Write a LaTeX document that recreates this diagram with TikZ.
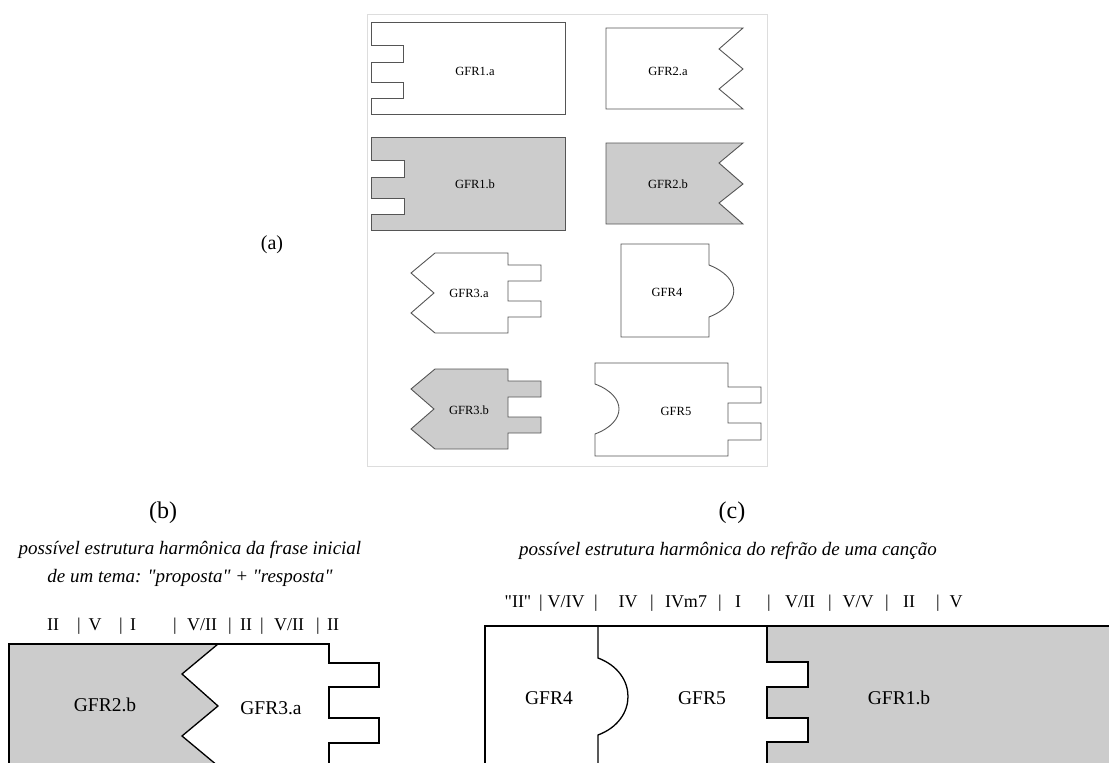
\documentclass[tikz,border=0pt]{standalone}
\usepackage{fontspec}
\setmainfont{Liberation Serif}[Ligatures=TeXOff]
\definecolor{gfill}{HTML}{CCCCCC}
\definecolor{frameg}{HTML}{DDDDDD}
\definecolor{smline}{HTML}{555555}
\begin{document}
\begin{tikzpicture}[x=1pt,y=-1pt,
  shp/.style={draw=smline, line width=0.9pt, line join=miter},
  bigshp/.style={draw=black, line width=1.3pt, line join=miter},
  gf/.style={fill=gfill},
  lbl/.style={font=\fontsize{12.5}{14}\selectfont, inner sep=0pt},
  biglbl/.style={font=\fontsize{19.5}{22}\selectfont, inner sep=0pt},
  chord/.style={font=\fontsize{18}{21}\selectfont, inner sep=0pt, anchor=base},
  captxt/.style={font=\fontsize{19}{28}\selectfont\itshape, inner sep=0pt, align=center},
  tagtxt/.style={font=\fontsize{24}{26}\selectfont, inner sep=0pt}]
\useasboundingbox (0,0) rectangle (1109,763);
\begin{scope}
\clip (0,0) rectangle (1109,763);
% ---------- panel (a) ----------
\draw[frameg, line width=0.8pt] (367,14) rectangle (767,466);
\node[tagtxt, font=\fontsize{20}{22}\selectfont] (ta) at (272,245) {(a)};
% GFR1.a
\draw[shp] (371,22) -- (565,22) -- (565,114) -- (371,114) -- (371,98) -- (403,98) -- (403,82) -- (371,82) -- (371,62) -- (403,62) -- (403,45) -- (371,45) -- cycle;
\node[lbl] (g1a) at (475,71) {GFR1.a};
% GFR2.a
\draw[shp] (606,28) -- (743,28) -- (719,49) -- (743,69) -- (719,89) -- (743,109) -- (606,109) -- cycle;
\node[lbl] (g2a) at (668,71) {GFR2.a};
% GFR1.b
\draw[shp, gf] (371,137) -- (565,137) -- (565,230) -- (371,230) -- (371,214) -- (404,214) -- (404,198) -- (371,198) -- (371,177) -- (404,177) -- (404,160) -- (371,160) -- cycle;
\node[lbl] (g1b) at (475,184) {GFR1.b};
% GFR2.b
\draw[shp, gf] (606,143) -- (743,143) -- (719,163) -- (743,184) -- (719,203) -- (743,224) -- (606,224) -- cycle;
\node[lbl] (g2b) at (668,184) {GFR2.b};
% GFR3.a
\draw[shp] (435,253) -- (508,253) -- (508,265) -- (541,265) -- (541,281) -- (508,281) -- (508,301) -- (541,301) -- (541,317) -- (508,317) -- (508,333) -- (435,333) -- (411,313) -- (434,293) -- (411,273) -- cycle;
\node[lbl] (g3a) at (469,293) {GFR3.a};
% GFR3.b
\draw[shp, gf, shift={(0,116)}] (435,253) -- (508,253) -- (508,265) -- (541,265) -- (541,281) -- (508,281) -- (508,301) -- (541,301) -- (541,317) -- (508,317) -- (508,333) -- (435,333) -- (411,313) -- (434,293) -- (411,273) -- cycle;
\node[lbl] (g3b) at (469,410) {GFR3.b};
% GFR4
\draw[shp] (621,244) -- (709,244) -- (709,265) .. controls (742,278) and (742,304) .. (709,317) -- (709,337) -- (621,337) -- cycle;
\node[lbl] (g4) at (667,292) {GFR4};
% GFR5
\draw[shp] (595,363) -- (728,363) -- (728,387) -- (761,387) -- (761,403) -- (728,403) -- (728,423) -- (761,423) -- (761,440) -- (728,440) -- (728,456) -- (595,456) -- (595,434) .. controls (627,422) and (627,396) .. (595,384) -- cycle;
\node[lbl] (g5) at (676,411) {GFR5};
% ---------- panel (b) ----------
\node[tagtxt] (tb) at (163,513) {(b)};
\node[captxt] (capb) at (190,564) {possível estrutura harmônica da frase inicial\\de um tema: "proposta" + "resposta"};
\node[chord] (b1) at (53,630) {II};
\node[chord] (b2) at (79,630) {|};
\node[chord] (b3) at (95,630) {V};
\node[chord] (b4) at (121,630) {|};
\node[chord] (b5) at (133,630) {I};
\node[chord] (b6) at (175,630) {|};
\node[chord] (b7) at (202,630) {V/II};
\node[chord] (b8) at (230,630) {|};
\node[chord] (b9) at (246,630) {II};
\node[chord] (b10) at (262,630) {|};
\node[chord] (b11) at (289,630) {V/II};
\node[chord] (b12) at (318,630) {|};
\node[chord] (b13) at (333,630) {II};
\fill[gfill] (9,644) -- (218,644) -- (182,674) -- (218,706) -- (182,736) -- (218,766) -- (220,775) -- (9,775) -- cycle;
\draw[bigshp] (9,775) -- (9,644) -- (329,644) -- (329,663) -- (379,663) -- (379,687) -- (329,687) -- (329,718) -- (379,718) -- (379,743) -- (329,743) -- (329,775);
\draw[bigshp] (218,644) -- (182,674) -- (218,706) -- (182,736) -- (218,766) -- (228,775);
\node[biglbl] (b2b) at (105,705) {GFR2.b};
\node[biglbl] (b3a) at (271,708) {GFR3.a};
% ---------- panel (c) ----------
\node[tagtxt] (tc) at (732,513) {(c)};
\node[captxt] (capc) at (728,551) {possível estrutura harmônica do refrão de uma canção};
\node[chord] (c1) at (518,607) {"II"};
\node[chord] (c2) at (541,607) {|};
\node[chord] (c3) at (566,607) {V/IV};
\node[chord] (c4) at (596,607) {|};
\node[chord] (c5) at (628,607) {IV};
\node[chord] (c6) at (652,607) {|};
\node[chord] (c7) at (686,607) {IVm7};
\node[chord] (c8) at (720,607) {|};
\node[chord] (c9) at (738,607) {I};
\node[chord] (c10) at (769,607) {|};
\node[chord] (c11) at (800,607) {V/II};
\node[chord] (c12) at (830,607) {|};
\node[chord] (c13) at (858,607) {V/V};
\node[chord] (c14) at (887,607) {|};
\node[chord] (c15) at (909,607) {II};
\node[chord] (c16) at (938,607) {|};
\node[chord] (c17) at (956,607) {V};
\fill[gfill] (767,626) -- (1115,626) -- (1115,775) -- (767,775) -- (767,742) -- (808,742) -- (808,718) -- (767,718) -- (767,687) -- (808,687) -- (808,662) -- (767,662) -- cycle;
\draw[bigshp] (485,775) -- (485,626) -- (1115,626);
\draw[bigshp] (598,626) -- (598,658) .. controls (638,673) and (638,720) .. (598,735) -- (598,775);
\draw[bigshp] (767,626) -- (767,662) -- (808,662) -- (808,687) -- (767,687) -- (767,718) -- (808,718) -- (808,742) -- (767,742) -- (767,775);
\node[biglbl] (c4n) at (549,698) {GFR4};
\node[biglbl] (c5n) at (702,698) {GFR5};
\node[biglbl] (c1b) at (899,698) {GFR1.b};
\end{scope}
\end{tikzpicture}
\end{document}
